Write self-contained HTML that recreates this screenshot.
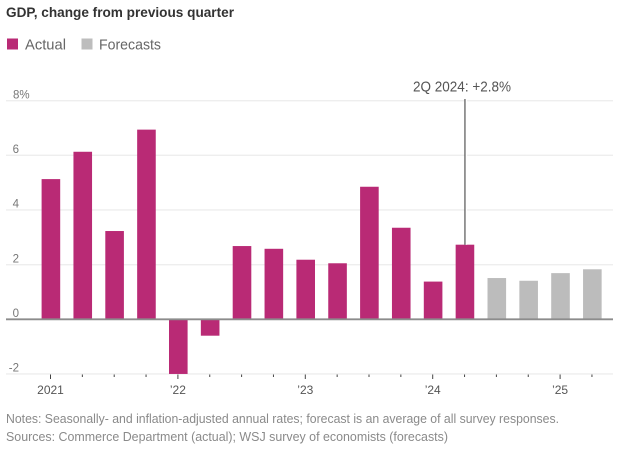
<!DOCTYPE html>
<html>
<head>
<meta charset="utf-8">
<style>
html,body{margin:0;padding:0;background:#fff;width:624px;height:454px;overflow:hidden}
svg{display:block;font-family:"Liberation Sans",sans-serif}
</style>
</head>
<body>
<svg id="chart" width="624" height="454" viewBox="0 0 624 454">
  <text x="6" y="17" font-size="14" font-weight="700" fill="#333" textLength="228" lengthAdjust="spacingAndGlyphs">GDP, change from previous quarter</text>
  <rect x="7" y="38.5" width="11" height="11" fill="#b92a75"/>
  <text x="25" y="49.5" font-size="15" fill="#666" textLength="41" lengthAdjust="spacingAndGlyphs">Actual</text>
  <rect x="81.5" y="38.5" width="11" height="11" fill="#bdbdbd"/>
  <text x="99" y="49.5" font-size="15" fill="#666" textLength="62" lengthAdjust="spacingAndGlyphs">Forecasts</text>
  <g id="grid"></g>
  <g id="bars"></g>
  <g id="axis"></g>
  <text x="413" y="91.5" font-size="15" fill="#555" textLength="98" lengthAdjust="spacingAndGlyphs">2Q 2024: +2.8%</text>
  <text x="6" y="423" font-size="12.5" fill="#8a8a8a" textLength="553" lengthAdjust="spacingAndGlyphs">Notes: Seasonally- and inflation-adjusted annual rates; forecast is an average of all survey responses.</text>
  <text x="6" y="441" font-size="12.5" fill="#8a8a8a" textLength="442" lengthAdjust="spacingAndGlyphs">Sources: Commerce Department (actual); WSJ survey of economists (forecasts)</text>
</svg>
<script>
var quarters = ['1Q21','2Q21','3Q21','4Q21','1Q22','2Q22','3Q22','4Q22','1Q23','2Q23','3Q23','4Q23','1Q24','2Q24','3Q24','4Q24','1Q25','2Q25'];
var actualValues = [5.13,6.13,3.23,6.94,-2.0,-0.6,2.68,2.58,2.18,2.05,4.85,3.35,1.38,2.73];
var forecastValues = [1.51,1.41,1.69,1.83];
var yTicks = [8,6,4,2,0,-2];
var yTickLabels = ['8%','6','4','2','0','-2'];
var xMajorQuarters = ['1Q21','1Q22','1Q23','1Q24','1Q25'];
var xMajorLabels = ['2021','\u201922','\u201923','\u201924','\u201925'];
var annotatedQuarter = '2Q24';

var NS = 'http://www.w3.org/2000/svg';
function yScale(v){ return 319.3 - v * 27.33; }
function xScale(q){ return 50.9 + quarters.indexOf(q) * 31.85; }
function make(parent, tag, attrs, text){
  var el = document.createElementNS(NS, tag);
  for (var k in attrs) el.setAttribute(k, attrs[k]);
  if (text !== undefined) el.textContent = text;
  parent.appendChild(el);
  return el;
}
var gridG = document.getElementById('grid');
var barsG = document.getElementById('bars');
var axisG = document.getElementById('axis');
var barW = 18.6;

yTicks.forEach(function(t, i){
  var y = yScale(t);
  if (t !== 0) {
    var line = make(gridG, 'line', {x1:6, x2:613, y1:y, y2:y, stroke:'#eeeeee', 'stroke-width':1.4});
    
    
  }
  var label = yTickLabels[i];
  var hasPct = label.indexOf('%') >= 0;
  var lab = make(axisG, 'text', {x: hasPct ? 13 : 19, y: y - 2.3, 'font-size': 11.5, fill:'#777', 'text-anchor': hasPct ? 'start' : 'end'}, label);
  
  
});

function drawBar(q, v, color, name){
  var y0 = yScale(0), y1 = yScale(v);
  var r = make(barsG, 'rect', {x: xScale(q) - barW/2, y: Math.min(y0, y1), width: barW, height: Math.abs(y1 - y0), fill: color});
  
  
}
actualValues.forEach(function(v, i){ drawBar(quarters[i], v, '#b92a75', 'bar-actual'); });
forecastValues.forEach(function(v, i){ drawBar(quarters[actualValues.length + i], v, '#bcbcbc', 'bar-forecast'); });

var annX = xScale(annotatedQuarter);
var annEnd = yScale(actualValues[quarters.indexOf(annotatedQuarter)]);
var annHalo = make(axisG, 'line', {x1: annX + 1.4, x2: annX + 1.4, y1: 99, y2: annEnd, stroke:'#fff', 'stroke-width':1.5});


var annLine = make(axisG, 'line', {x1: annX, x2: annX, y1: 99, y2: annEnd, stroke:'#555', 'stroke-width':1.2});



var zero = make(axisG, 'line', {x1:6, x2:613, y1:yScale(0), y2:yScale(0), stroke:'#8c8c8c', 'stroke-width':1.8});



quarters.forEach(function(q){
  var major = xMajorQuarters.indexOf(q) >= 0;
  var x = xScale(q) - 0.4;
  var tick = make(axisG, 'line', {x1:x, x2:x, y1:374.5, y2: major ? 379 : 377, stroke:'#444', 'stroke-width':1});
  
  
  if (major) {
    var lab = make(axisG, 'text', {x:x, y:394, 'font-size':12, fill:'#555', 'text-anchor':'middle'}, xMajorLabels[xMajorQuarters.indexOf(q)]);
    
    
  }
});
</script>
</body>
</html>
